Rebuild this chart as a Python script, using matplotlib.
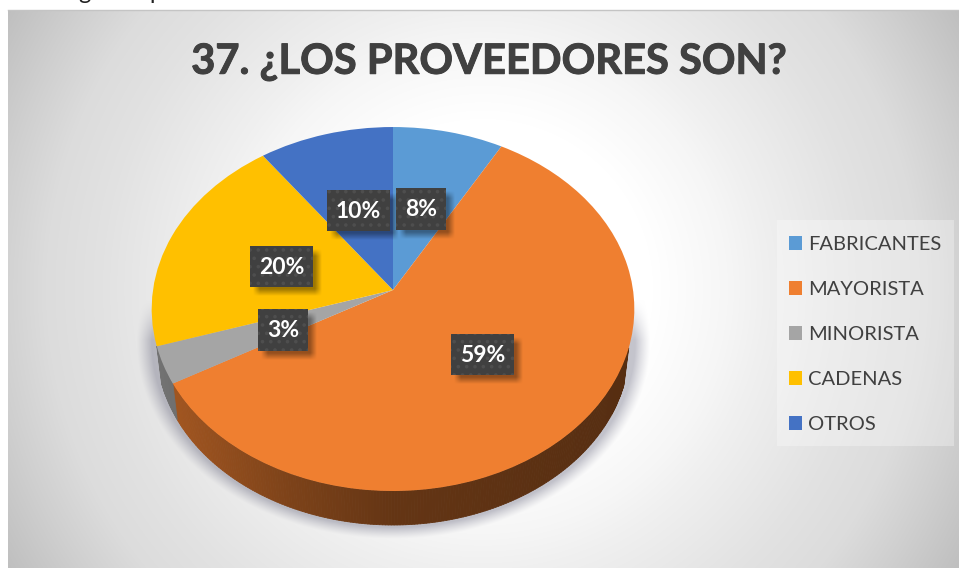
import numpy as np
import matplotlib
matplotlib.use("Agg")
import matplotlib.pyplot as plt
import matplotlib.patheffects as pe
from matplotlib.collections import PolyCollection
from matplotlib.colors import to_rgb
from matplotlib.patches import Rectangle
from matplotlib.transforms import Transform

# ---- data ----
categories = ["FABRICANTES", "MAYORISTA", "MINORISTA", "CADENAS", "OTROS"]
shares = [8.2, 58.6, 3.3, 19.9, 10.0]
title = "37. ¿LOS PROVEEDORES SON?"

# ---- style ----
slice_colors = ["#5B9BD5", "#EF7F30", "#A5A5A5", "#FFC000", "#4472C4"]
W, H = 959, 568
TEXT = "#404040"
FONT = "Lato"
# label box (left, top, right, bottom) in pixels, one per category
label_boxes = [(396, 188, 446, 230), (451, 334, 514, 375), (258, 309, 308, 351),
               (250, 246, 313, 287), (327, 190, 390, 231)]

plt.rcParams["font.family"] = [FONT, "DejaVu Sans"]
plt.rcParams["hatch.linewidth"] = 1.4

fig = plt.figure(figsize=(W / 100, H / 100), dpi=100, facecolor="white")
ax = fig.add_axes([0, 0, 1, 1])


class Perspective(Transform):
    """Tilted unit disc -> pixel coordinates."""
    input_dims = output_dims = 2
    has_inverse = False
    is_affine = False

    def __init__(self, scale=1.0, dy=0.0):
        super().__init__()
        self.scale, self.dy = scale, dy

    def transform_non_affine(self, v):
        v = np.asarray(v, float)
        w = 1 + 0.1045 * v[:, 1]
        return np.column_stack([393 + self.scale * 240 * v[:, 0] / w,
                                290 + self.dy - self.scale * 180 * v[:, 1] / w])


top_ring = Perspective()
bottom_ring = Perspective(0.98, 38)

# background radial gradient with the pie's soft shadow
xx, yy = np.meshgrid(np.arange(W) + .5, np.arange(H) + .5)
r = np.hypot(xx - 483, yy - 289)
grey = np.interp(r, [0, 170, 245, 280, 380, 437, 490, 551],
                 [255, 255, 246, 240, 226, 220, 207, 191])
e = np.hypot((xx - 393.5) / 257, (yy - 343) / 196)
shadow = 0.34 * np.clip((1 - e) / 0.06, 0, 1) ** 1.2 * np.clip((yy - 300) / 40, 0, 1)
bg = np.repeat((grey / 255)[..., None], 3, axis=2)
bg = bg * (1 - shadow[..., None]) + shadow[..., None] * np.array([.32, .32, .42])
ax.imshow(bg, extent=(0, W, H, 0), aspect="auto", zorder=0, interpolation="bilinear")
ax.add_patch(Rectangle((0, 0), W, 10, fc="white", ec="none", zorder=1))
ax.add_patch(Rectangle((0, 0), 8, H, fc="white", ec="none", zorder=1))
ax.plot([8, W], [10, 10], color="#c4c4c4", lw=1, zorder=1)

# side wall of the pie (only the front of the rim shows)
fractions = np.cumsum([0] + shares) / sum(shares)
polys, cols = [], []
for i, c in enumerate(slice_colors):
    a0 = np.pi / 2 - 2 * np.pi * fractions[i]
    a1 = np.pi / 2 - 2 * np.pi * fractions[i + 1]
    n = max(2, int((a0 - a1) * 90))
    th = np.linspace(a0, a1, n)
    ring = np.column_stack([np.cos(th), np.sin(th)])
    t = top_ring.transform_non_affine(ring)
    b = bottom_ring.transform_non_affine(ring)
    for k in range(n - 1):
        if ring[k, 1] > -0.31:
            continue
        polys.append([t[k], t[k + 1], b[k + 1], b[k]])
        f = np.interp(t[k][0] - 393, [-240, -100, 0, 240], [.70, .52, .42, .36])
        cols.append(tuple(f * np.array(to_rgb(c))))
ax.add_collection(PolyCollection(polys, facecolors=cols, edgecolors=cols, linewidths=.6, zorder=2))

# top face
wedges, _ = ax.pie(shares, colors=slice_colors, startangle=90, counterclock=False,
                   wedgeprops={"linewidth": 0})
for wd in wedges:
    wd.set_transform(top_ring + ax.transData)
    wd.set_zorder(3)
ax.set_aspect("auto")

# data label shadows, boxes and text
overlay = np.zeros((H, W, 4))
for (x0, y0, x1, y1) in label_boxes:
    sx = np.clip((xx - x0 - 3) / 7, 0, 1) * np.clip((x1 + 9 - xx) / 7, 0, 1)
    sy = np.clip((yy - y0 - 3) / 7, 0, 1) * np.clip((y1 + 9 - yy) / 7, 0, 1)
    overlay[..., 3] = np.maximum(overlay[..., 3], 0.38 * sx * sy)
ax.imshow(overlay, extent=(0, W, H, 0), aspect="auto", zorder=4, interpolation="bilinear")
for (x0, y0, x1, y1), v in zip(label_boxes, shares):
    ax.add_patch(Rectangle((x0, y0), x1 - x0, y1 - y0, fc="#404040", ec="#4e4e4e", lw=0,
                           hatch="..", zorder=5))
    ax.text((x0 + x1) / 2, (y0 + y1) / 2 + .5, f"{v:.0f}%", color="white", fontsize=16.5,
            fontweight="bold", ha="center", va="center", zorder=6)

# title and clipped text of the page above the chart
ttl = ax.text(488.5, 62, title, color=TEXT, fontsize=30, fontweight="bold",
              ha="center", va="center", zorder=6)
ttl.set_path_effects([pe.withStroke(linewidth=.7, foreground=TEXT)])
for ch, x in zip("gp", (84, 156)):
    ax.text(x, -1, ch, color="#222222", fontsize=17, ha="center", va="baseline",
            zorder=6, clip_on=True)

# legend
ax.add_patch(Rectangle((777, 220), 177, 226, fc="white", alpha=.3, ec="none", zorder=5))
leg = ax.legend(wedges, categories, loc="upper left", bbox_to_anchor=(777, 224),
                bbox_transform=ax.transData, borderaxespad=0, frameon=False, fontsize=14.5,
                labelcolor=TEXT, handlelength=.68, handleheight=.68, handletextpad=.3,
                labelspacing=1.4, borderpad=.58)
leg.set_zorder(6)

ax.set_xlim(0, W)
ax.set_ylim(H, 0)
ax.axis("off")
fig.savefig("out.png", dpi=100)
